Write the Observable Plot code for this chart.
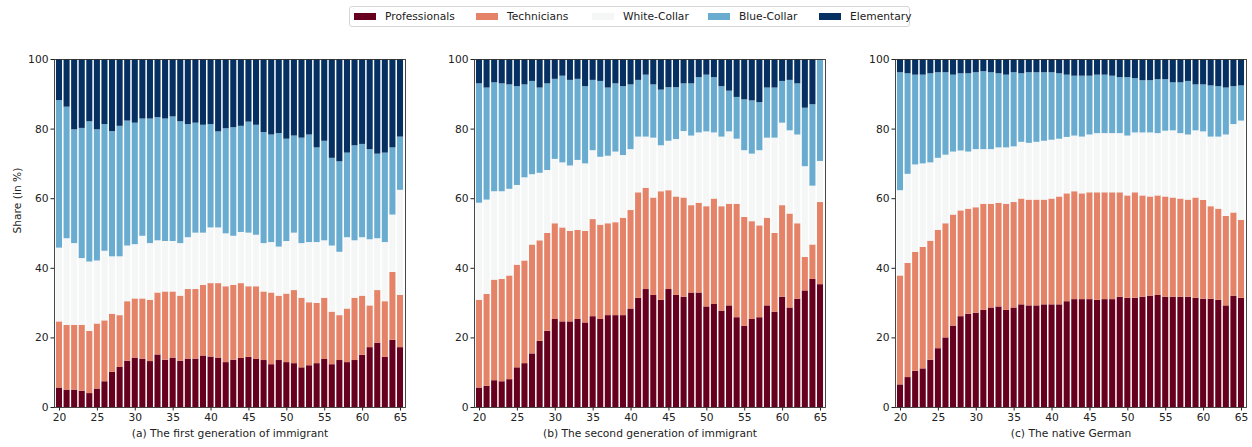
<!DOCTYPE html>
<html>
<head>
<meta charset="utf-8">
<script src="https://cdn.jsdelivr.net/npm/d3@7"></script>
<script src="https://cdn.jsdelivr.net/npm/@observablehq/plot@0.6"></script>
<style>
  html, body { margin: 0; padding: 0; background: #fff; }
  #chart { position: relative; width: 1252px; height: 447px; font-family: "DejaVu Sans", sans-serif; color: #222; }
  #chart svg { position: absolute; top: 0; }
  .legend { position: absolute; left: 349px; top: 6px; width: 561px; height: 21px; border: 1px solid #d6d6d6; border-radius: 3px; box-sizing: border-box; z-index: 2; background: #fff; }
  .legend .item { position: absolute; top: 0; height: 19px; display: flex; align-items: center; font-size: 10.7px; white-space: nowrap; }
  .legend .sw { width: 22px; height: 7px; margin-right: 9px; }
</style>
</head>
<body>
<div id="chart"></div>
<script>
// Occupational categories, bottom to top of each stack
const categories = ["Professionals", "Technicians", "White-Collar", "Blue-Collar", "Elementary"];
const colors = ["#67001f", "#e58368", "#f5f6f6", "#6aacd0", "#053061"];

// Age groups on the x axis
const ages = [20, 21, 22, 23, 24, 25, 26, 27, 28, 29, 30, 31, 32, 33, 34, 35, 36, 37, 38, 39, 40, 41, 42,
              43, 44, 45, 46, 47, 48, 49, 50, 51, 52, 53, 54, 55, 56, 57, 58, 59, 60, 61, 62, 63, 64, 65];
const xTicks = [20, 25, 30, 35, 40, 45, 50, 55, 60, 65];
const yTicks = [0, 20, 40, 60, 80, 100];

// (a) First generation of immigrants: share (in %) of each category by age
const firstProfessionals = [5.6, 5.0, 5.0, 4.7, 4.0, 5.3, 7.4, 10.1, 11.5, 13.3, 14.2, 13.9, 13.2, 15.1, 13.6, 14.2, 13.3, 13.9, 13.9, 14.8, 14.5, 14.2, 12.9,
  13.6, 14.1, 14.4, 13.8, 13.5, 12.3, 13.5, 12.9, 12.6, 11.4, 12.0, 12.6, 13.8, 12.3, 13.5, 12.9, 13.5, 15.0, 17.2, 18.5, 14.4, 19.3, 17.2];
const firstTechnicians = [19.0, 18.6, 18.6, 18.9, 17.9, 18.7, 17.5, 16.7, 14.9, 17.1, 17.0, 17.3, 17.6, 17.8, 19.6, 19.0, 18.7, 20.0, 20.0, 20.3, 21.1, 21.4, 21.8,
  21.5, 21.5, 20.3, 20.9, 19.7, 20.6, 18.5, 19.7, 21.0, 20.0, 18.1, 17.3, 17.6, 15.1, 12.9, 15.4, 17.9, 17.0, 12.0, 15.1, 16.0, 19.5, 15.0];
const firstWhiteCollar = [21.2, 24.9, 23.5, 19.2, 19.9, 18.1, 20.0, 16.5, 16.9, 16.0, 15.6, 18.0, 16.3, 15.0, 14.5, 14.5, 15.1, 14.9, 16.2, 15.0, 16.0, 16.0, 15.2,
  14.1, 14.7, 15.4, 14.8, 13.9, 14.5, 14.1, 15.1, 16.5, 15.7, 17.3, 17.5, 16.5, 19.0, 18.2, 20.5, 16.5, 16.8, 19.0, 14.9, 17.0, 16.5, 30.2];
const firstBlueCollar = [42.4, 37.8, 32.7, 37.4, 40.3, 37.7, 36.4, 36.0, 37.5, 35.9, 34.9, 33.7, 35.8, 35.4, 35.2, 35.8, 35.0, 32.5, 31.6, 31.0, 29.7, 27.6, 30.2,
  31.2, 30.5, 31.9, 31.6, 31.9, 30.9, 32.6, 29.4, 27.9, 30.3, 30.9, 27.2, 28.6, 25.2, 26.0, 24.3, 27.3, 26.8, 25.9, 24.3, 25.7, 19.3, 15.3];
const firstElementary = [11.8, 13.7, 20.2, 19.8, 17.9, 20.2, 18.7, 20.7, 19.2, 17.7, 18.3, 17.1, 17.1, 16.7, 17.1, 16.5, 17.9, 18.7, 18.3, 18.9, 18.7, 20.8, 19.9,
  19.6, 19.2, 18.0, 18.9, 21.0, 21.7, 21.3, 22.9, 22.0, 22.6, 21.7, 25.4, 23.5, 28.4, 29.4, 26.9, 24.8, 24.4, 25.9, 27.2, 26.9, 25.4, 22.3];

// (b) Second generation of immigrants
const secondProfessionals = [5.6, 6.1, 7.7, 7.4, 8.0, 11.4, 12.6, 15.4, 19.0, 21.9, 25.3, 24.6, 24.6, 25.3, 24.3, 26.1, 25.3, 26.4, 26.4, 26.4, 28.3, 31.4, 33.9,
  32.2, 30.8, 33.9, 32.2, 31.7, 32.9, 32.9, 28.9, 29.6, 27.7, 29.2, 25.8, 23.3, 25.3, 25.8, 29.2, 27.4, 31.7, 28.6, 31.1, 33.5, 36.8, 35.3];
const secondTechnicians = [25.2, 26.4, 28.9, 29.4, 29.8, 29.5, 29.5, 31.3, 28.9, 28.1, 27.5, 27.0, 26.0, 25.6, 26.3, 27.9, 27.1, 26.4, 26.7, 28.0, 28.3, 30.3, 29.1,
  28.0, 31.2, 28.4, 28.3, 28.5, 25.1, 25.8, 28.8, 30.3, 30.0, 29.2, 32.6, 31.3, 28.1, 26.4, 25.2, 22.6, 26.3, 27.0, 21.7, 9.6, 9.9, 23.6];
const secondWhiteCollar = [27.9, 27.1, 25.4, 25.2, 24.9, 22.9, 23.9, 20.2, 19.4, 18.1, 18.5, 18.7, 18.8, 20.1, 19.4, 19.8, 19.5, 19.4, 20.3, 18.0, 17.5, 16.0, 14.7,
  17.2, 13.2, 14.2, 16.5, 19.1, 20.0, 20.2, 21.5, 19.0, 20.0, 20.8, 18.7, 19.2, 19.4, 21.6, 23.0, 27.4, 23.7, 23.9, 25.5, 26.1, 16.9, 11.8];
const secondBlueCollar = [34.3, 32.2, 31.3, 31.0, 30.0, 28.4, 26.7, 26.8, 24.5, 24.9, 23.0, 24.9, 24.6, 23.3, 22.2, 20.2, 21.8, 19.6, 19.6, 19.8, 18.6, 16.3, 17.8,
  15.3, 16.0, 15.4, 14.9, 13.7, 15.0, 15.9, 16.3, 15.9, 14.5, 11.7, 12.0, 14.6, 15.3, 13.8, 14.4, 14.4, 12.0, 14.5, 14.7, 16.8, 23.4, 29.3];
const secondElementary = [7.0, 8.2, 6.7, 7.0, 7.3, 7.8, 7.3, 6.3, 8.2, 7.0, 5.7, 4.8, 6.0, 5.7, 7.8, 6.0, 6.3, 8.2, 7.0, 7.8, 7.3, 6.0, 4.5,
  7.3, 8.8, 8.1, 8.1, 7.0, 7.0, 5.2, 4.5, 5.2, 7.8, 9.1, 10.9, 11.6, 11.9, 12.4, 8.2, 8.2, 6.3, 6.0, 7.0, 14.0, 13.0, 0.0];

// (c) Native Germans
const nativeProfessionals = [6.5, 8.6, 10.4, 11.1, 13.6, 16.9, 20.0, 23.4, 26.1, 26.8, 27.1, 27.9, 28.6, 28.9, 27.9, 28.6, 29.5, 29.2, 29.2, 29.5, 29.5, 29.5, 30.4,
  31.0, 31.0, 31.0, 30.8, 31.0, 31.0, 31.7, 31.4, 31.4, 31.7, 32.0, 32.2, 31.7, 31.7, 31.7, 31.7, 31.4, 31.1, 31.1, 30.8, 29.2, 32.0, 31.4];
const nativeTechnicians = [31.3, 32.8, 34.2, 34.9, 34.2, 34.0, 32.8, 31.9, 30.4, 30.2, 30.3, 30.5, 29.8, 29.8, 30.5, 30.3, 30.4, 30.4, 30.4, 30.1, 30.4, 31.0, 31.0,
  31.0, 30.4, 30.7, 30.9, 30.7, 30.7, 30.0, 29.4, 30.3, 29.1, 28.5, 28.6, 28.8, 28.5, 28.2, 27.9, 28.8, 28.4, 26.6, 26.2, 25.7, 23.9, 22.4];
const nativeWhiteCollar = [24.5, 25.6, 25.1, 24.0, 22.5, 20.7, 19.7, 18.1, 17.2, 16.4, 16.7, 15.7, 15.7, 15.9, 16.2, 16.0, 16.3, 16.3, 16.6, 16.9, 16.9, 16.6, 16.2,
  16.0, 16.3, 16.6, 17.0, 17.0, 17.0, 17.0, 17.2, 17.2, 18.1, 18.4, 17.9, 18.9, 19.3, 18.8, 18.7, 19.3, 19.7, 20.0, 20.7, 23.4, 25.4, 28.5];
const nativeBlueCollar = [33.9, 28.9, 25.8, 25.5, 25.6, 24.6, 23.7, 22.1, 22.2, 22.5, 22.1, 22.4, 22.1, 21.3, 20.9, 21.3, 19.7, 20.3, 20.0, 19.7, 19.4, 18.8, 17.9,
  17.2, 17.5, 16.9, 16.8, 16.8, 16.5, 16.1, 16.8, 15.6, 15.0, 15.0, 15.5, 14.8, 13.8, 14.6, 15.4, 13.2, 13.5, 14.7, 14.5, 13.5, 10.9, 10.1];
const nativeElementary = [3.8, 4.1, 4.5, 4.5, 4.1, 3.8, 3.8, 4.5, 4.1, 4.1, 3.8, 3.5, 3.8, 4.1, 4.5, 3.8, 4.1, 3.8, 3.8, 3.8, 3.8, 4.1, 4.5,
  4.8, 4.8, 4.8, 4.5, 4.5, 4.8, 5.2, 5.2, 5.5, 6.1, 6.1, 5.8, 5.8, 6.7, 6.7, 6.3, 7.3, 7.3, 7.6, 7.8, 8.2, 7.8, 7.6];

const panels = [
  {caption: "(a) The first generation of immigrant", left: 14, yLabel: true,
   series: [firstProfessionals, firstTechnicians, firstWhiteCollar, firstBlueCollar, firstElementary]},
  {caption: "(b) The second generation of immigrant", left: 434, yLabel: false,
   series: [secondProfessionals, secondTechnicians, secondWhiteCollar, secondBlueCollar, secondElementary]},
  {caption: "(c) The native German", left: 855, yLabel: false,
   series: [nativeProfessionals, nativeTechnicians, nativeWhiteCollar, nativeBlueCollar, nativeElementary]}
];

const chart = document.getElementById("chart");

// Legend row above the three panels
const legend = document.createElement("div");
legend.className = "legend";
const legendLeft = [4, 126, 242, 358, 469];
categories.forEach((c, i) => {
  const item = document.createElement("div");
  item.className = "item";
  item.style.left = legendLeft[i] + "px";
  const sw = document.createElement("span");
  sw.className = "sw";
  sw.style.background = colors[i];
  const label = document.createElement("span");
  label.textContent = c;
  item.append(sw, label);
  legend.append(item);
});
chart.append(legend);

for (const panel of panels) {
  // long-format rows: one per age and category, in stacking order
  const rows = [];
  ages.forEach((age, j) => {
    categories.forEach((c, k) => rows.push({age, category: c, share: panel.series[k][j]}));
  });

  const marks = [
    Plot.barY(rows, {x: "age", y: "share", fill: "category"}),
    Plot.frame({stroke: "#333", strokeWidth: 0.9}),
    Plot.text([panel.caption], {frameAnchor: "bottom", dy: 29, fontSize: 10.7, fill: "#222"})
  ];
  if (panel.yLabel) {
    marks.push(Plot.text(["Share (in %)"], {frameAnchor: "left", dx: -37, rotate: -90, fontSize: 10.7, fill: "#222"}));
  }

  const svg = Plot.plot({
    width: 396,
    height: 447,
    marginLeft: 40,
    marginRight: 5,
    marginTop: 59,
    marginBottom: 40,
    style: {fontFamily: "DejaVu Sans", fontSize: "10.7px", color: "#222", background: "transparent", overflow: "visible"},
    x: {type: "band", domain: ages, round: false, paddingInner: 0.2, paddingOuter: 0.26, align: 0.5,
        ticks: xTicks, tickSize: 3.5, tickPadding: 2, label: null},
    y: {domain: [0, 100], ticks: yTicks, tickSize: 3.5, tickPadding: 2.5, label: null},
    color: {domain: categories, range: colors},
    marks
  });
  svg.style.left = panel.left + "px";
  chart.append(svg);
}
</script>
</body>
</html>
